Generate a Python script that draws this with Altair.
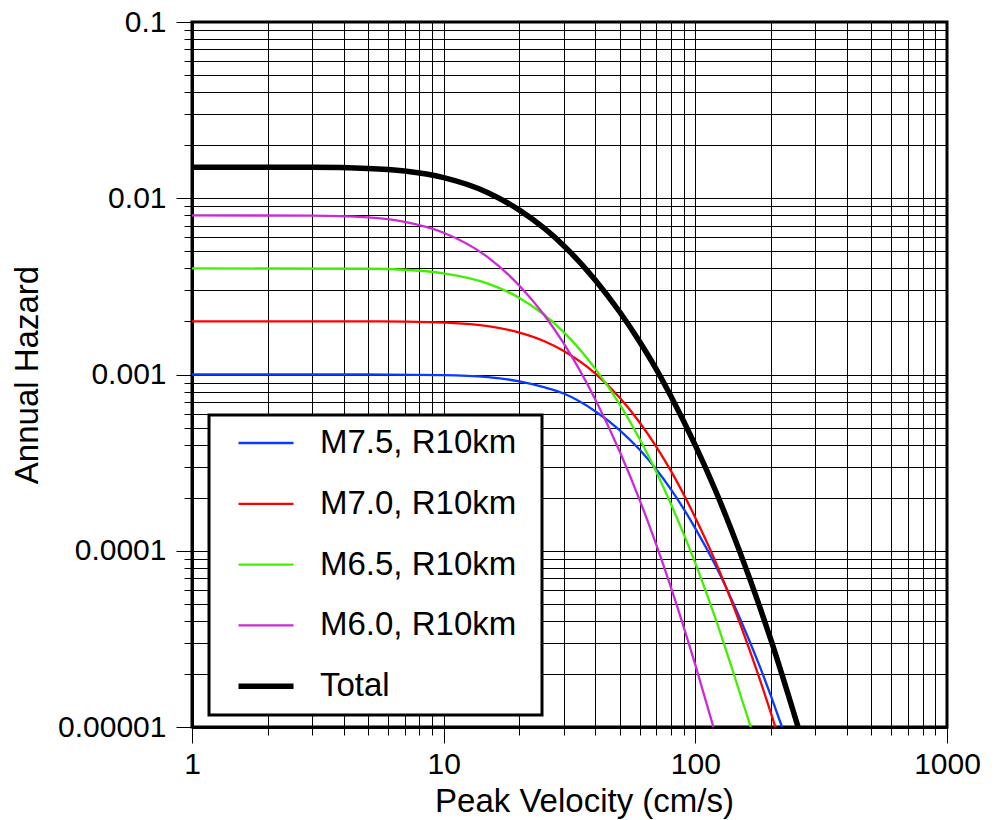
import json
import altair as alt
import pandas as pd

FONT = "Liberation Sans"

# Hazard curves: peak velocity (cm/s) and annual exceedance rate
series_names = ["M7.5, R10km", "M7.0, R10km", "M6.5, R10km", "M6.0, R10km", "Total"]
series_colors = ["#0a3cff", "#ff0000", "#40f000", "#cc2ad6", "#000000"]
series_widths = [2.3, 2.3, 2.3, 2.3, 5.5]

v_m75 = [1, 5, 10, 15, 20, 25, 30, 40, 50, 60, 70, 80, 100, 120, 150, 180, 200, 221]
h_m75 = [0.001, 0.001, 0.000993, 0.000965, 0.000915, 0.000848, 0.00078, 0.000619, 0.000484,
         0.000375, 0.000289, 0.000223, 0.000134, 0.0000829, 0.0000417, 0.0000222, 0.0000149, 0.00001]

v_m70 = [1, 5, 7, 10, 15, 20, 25, 30, 40, 50, 60, 70, 80, 100, 120, 150, 180, 208]
h_m70 = [0.002, 0.002, 0.001994, 0.00197, 0.00188, 0.00173, 0.00155, 0.00136, 0.001015, 0.00074,
         0.000536, 0.000389, 0.000284, 0.000154, 0.0000873, 0.0000391, 0.0000188, 0.00001]

v_m65 = [1, 5, 7, 10, 15, 20, 25, 30, 40, 50, 60, 70, 80, 100, 120, 140, 166]
h_m65 = [0.004, 0.00398, 0.00393, 0.00375, 0.00328, 0.00272, 0.00219, 0.00174, 0.00108, 0.00068,
         0.000432, 0.00028, 0.000184, 0.000085, 0.0000416, 0.0000214, 0.00001]

v_m60 = [1, 3, 5, 7, 10, 15, 20, 25, 30, 40, 50, 60, 70, 80, 100, 118]
h_m60 = [0.008, 0.00797, 0.00778, 0.00734, 0.00637, 0.00462, 0.00319, 0.00219, 0.0015, 0.000724,
         0.000367, 0.000195, 0.000108, 0.000062, 0.0000225, 0.00001]

v_tot = [1, 3, 5, 7, 10, 15, 20, 25, 30, 40, 50, 60, 70, 80, 100, 120, 150, 180, 200, 256]
h_tot = [0.015, 0.01497, 0.01476, 0.01426, 0.01308, 0.01075, 0.00856, 0.00678, 0.00538, 0.00344,
         0.00227, 0.00154, 0.00107, 0.000753, 0.000396, 0.000221, 0.0000992, 0.0000484, 0.000031, 0.00001]

# Axis tick labels at each decade
x_tick_labels = ["1", "10", "100", "1000"]
y_tick_labels = ["0.1", "0.01", "0.001", "0.0001", "0.00001"]

# Log grid: 1..9 in every decade
x_grid = [m * 10 ** k for k in range(3) for m in range(1, 10)] + [1000]
y_grid = [m * 10.0 ** k for k in range(-5, -1) for m in range(1, 10)] + [0.1]

rows = []
for name, vs, hs in zip(series_names, [v_m75, v_m70, v_m65, v_m60, v_tot],
                        [h_m75, h_m70, h_m65, h_m60, h_tot]):
    for i, (v, h) in enumerate(zip(vs, hs)):
        rows.append({"series": name, "v": v, "h": h, "order": i})
df = pd.DataFrame(rows)

decade = "abs(log(datum.value)/LN10 - round(log(datum.value)/LN10)) < 1e-6"
x_label_expr = f"({decade}) ? {json.dumps(x_tick_labels)}[round(log(datum.value)/LN10)] : ''"
y_label_expr = f"({decade}) ? {json.dumps(y_tick_labels)}[-round(log(datum.value)/LN10) - 1] : ''"
tick_len = {"condition": {"test": decade, "value": 16}, "value": 8}

common_axis = dict(
    grid=True, gridColor="black", gridWidth=1, gridOpacity=1,
    ticks=True, tickColor="black", tickWidth=1, tickSize=tick_len,
    domain=True, domainColor="black", domainWidth=3,
    labelFont=FONT, labelFontSize=30, labelColor="black",
    labelOverlap=False, labelFlush=False,
    titleFont=FONT, titleFontSize=33, titleFontWeight="normal", titleColor="black",
)

x_axis = alt.Axis(values=x_grid, title="Peak Velocity (cm/s)", labelExpr=x_label_expr,
                  labelPadding=6, titleX=392, titleY=84, titleBaseline="alphabetic",
                  **common_axis)
y_axis = alt.Axis(values=y_grid, title="Annual Hazard", labelExpr=y_label_expr,
                  labelPadding=10, titleX=-155, titleY=352.5, titleBaseline="alphabetic",
                  titleAngle=270, titleAlign="center", **common_axis)

# Boxed legend in the lower-left of the plot; a blank title on the right
# side gives the box its right-hand margin
legend = alt.Legend(
    title="\u00a0", titleOrient="right", titleFontSize=10, titlePadding=15,
    orient="none", legendX=17, legendY=393, direction="vertical",
    fillColor="white", strokeColor="black", padding=11,
    symbolType="stroke", symbolSize=3025, symbolOpacity=1, symbolOffset=15.5,
    clipHeight=34, rowPadding=26.8,
    labelFont=FONT, labelFontSize=33, labelColor="black", labelOffset=23.5,
    labelLimit=0,
)

chart = alt.Chart(df).mark_line(interpolate="monotone", clip=True).encode(
    x=alt.X("v:Q", scale=alt.Scale(type="log", domain=[1, 1000], nice=False), axis=x_axis),
    y=alt.Y("h:Q", scale=alt.Scale(type="log", domain=[0.00001, 0.1], nice=False), axis=y_axis),
    color=alt.Color("series:N", scale=alt.Scale(domain=series_names, range=series_colors),
                    sort=series_names, legend=legend),
    strokeWidth=alt.StrokeWidth("series:N",
                                scale=alt.Scale(type="ordinal", domain=series_names, range=series_widths),
                                sort=series_names, legend=legend),
    detail="series:N",
    order="order:Q",
).properties(
    width=755, height=705,
    autosize=alt.AutoSizeParams(type="none"),
    padding={"left": 192, "top": 22, "right": 56, "bottom": 93},
    background="white",
).configure_view(stroke="black", strokeWidth=3).configure_legend(strokeWidth=3)

chart.save("out.html", embed_options={"renderer": "svg", "actions": False})
